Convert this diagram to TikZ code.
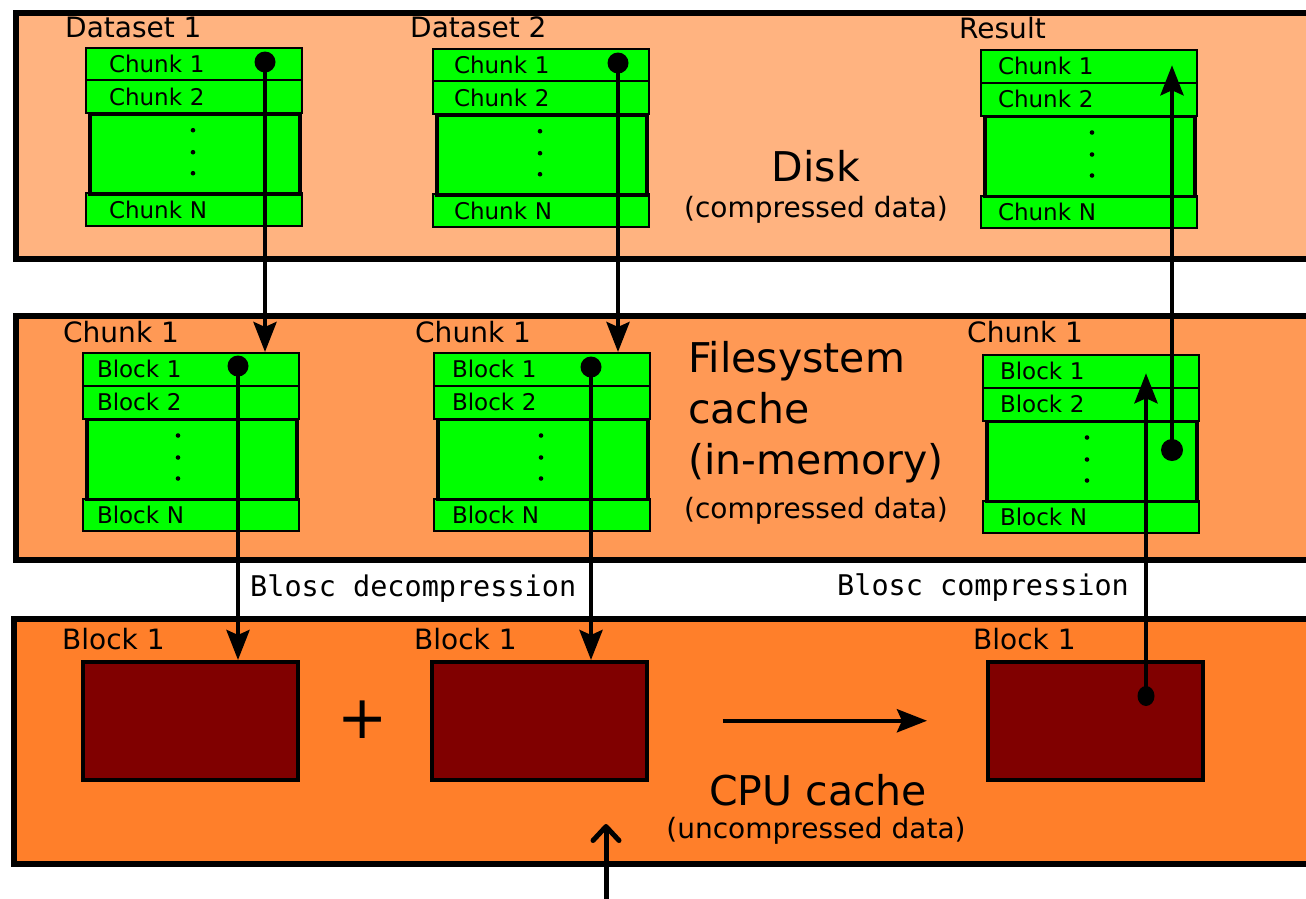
\documentclass[tikz,border=0pt]{standalone}
\usepackage{fontspec}
\setmainfont{DejaVu Sans}
\setmonofont{DejaVu Sans Mono}
\usetikzlibrary{arrows.meta}
\definecolor{diskc}{HTML}{FFB380}
\definecolor{fsc}{HTML}{FF9955}
\definecolor{cpuc}{HTML}{FF7F2A}
\definecolor{chunkg}{HTML}{00FF00}
\definecolor{blockr}{HTML}{800000}
\tikzset{
  row/.style={draw, fill=chunkg, line width=2pt, anchor=north west, align=left,
    font=\fontsize{23}{26}\selectfont, inner ysep=0pt},
  midbox/.style={draw, fill=chunkg, line width=3.5pt, anchor=north west,
    minimum width=210pt, minimum height=80pt, inner sep=0pt},
  band/.style={draw, line width=6pt, anchor=north west, minimum width=1340pt, inner sep=0pt},
  blk/.style={draw, fill=blockr, line width=3.5pt, anchor=north west,
    minimum width=215pt, minimum height=118pt, inner sep=0pt},
  conn/.style={line width=4.5pt, -{Stealth[length=30pt, width=23pt, inset=5pt]}},
  lbl/.style={font=\fontsize{28}{32}\selectfont, anchor=base west, inner sep=0pt},
  big/.style={font=\fontsize{41}{51}\selectfont, anchor=base west, inner sep=0pt},
  mono/.style={font=\ttfamily\fontsize{28.5}{32}\selectfont, anchor=base west, inner sep=0pt},
}
% #1 prefix, #2 x, #3 y, #4 word, #5 text offset, #6 dots offset
\newcommand{\mystack}[6]{%
  \pgfmathsetmacro{\tw}{216-2*#5}%
  \node[row, inner xsep=#5pt, text width=\tw pt, minimum height=32.5pt] (#1r1) at (#2,#3) {#4 1};
  \node[row, inner xsep=#5pt, text width=\tw pt, minimum height=33pt] (#1r2) at (#2,#3+32.5) {#4 2};
  \node[row, inner xsep=#5pt, text width=\tw pt, minimum height=32.5pt] (#1rn) at (#2,#3+145.5) {#4 N};
  \node[midbox] (#1m) at (#2+3,#3+65.5) {};
  \fill (#2+#6,#3+65.5+18) circle[radius=2.3pt];
  \fill (#2+#6,#3+65.5+40) circle[radius=2.3pt];
  \fill (#2+#6,#3+65.5+61) circle[radius=2.3pt];
}
\begin{document}
\begin{tikzpicture}[x=1pt, y=-1pt]
\useasboundingbox (0,0) rectangle (1306,898);
\fill[white] (0,0) rectangle (1306,898);
\clip (0,0) rectangle (1306,898);

% bands
\node[band, fill=diskc, minimum height=245.5pt] (disk) at (13,10) {};
\node[band, fill=fsc, minimum height=244pt] (fs) at (13,313) {};
\node[band, fill=cpuc, minimum height=245pt] (cpu) at (10.5,615.5) {};

% stacks
\mystack{dA}{85}{46.7}{Chunk}{23}{108}
\mystack{dB}{432}{47.7}{Chunk}{21}{108}
\mystack{rR}{980}{49}{Chunk}{17}{112}
\mystack{fA}{82}{352}{Block}{14}{96}
\mystack{fB}{433}{352}{Block}{18}{108}
\mystack{fC}{982}{354}{Block}{17}{105}

% CPU blocks
\node[blk] (cb1) at (81,660) {};
\node[blk] (cb2) at (430,660) {};
\node[blk] (cb3) at (986,660) {};
\node[font=\fontsize{60}{60}\selectfont, inner sep=0pt] (plus) at (363,720) {+};

% labels
\node[lbl] (dsa) at (65,37.3) {Dataset 1};
\node[lbl] (dsb) at (410,37.3) {Dataset 2};
\node[lbl] (res) at (959,38.3) {Result};
\node[big, anchor=base] (disktitle) at (816,181) {Disk};
\node[lbl, anchor=base] (disksub) at (816,217) {(compressed data)};

\node[lbl] (fha) at (63,342.5) {Chunk 1};
\node[lbl] (fhb) at (415,342.5) {Chunk 1};
\node[lbl] (fhc) at (967,342.5) {Chunk 1};
\node[big] (fst1) at (688,372) {Filesystem};
\node[big] (fst2) at (688,423) {cache};
\node[big] (fst3) at (688,474) {(in-memory)};
\node[lbl, anchor=base] (fssub) at (816,518) {(compressed data)};

\node[mono] (dec) at (250,596) {Blosc decompression};
\node[mono] (com) at (837,595) {Blosc compression};

\node[lbl] (cla) at (62,649) {Block 1};
\node[lbl] (clb) at (414,649) {Block 1};
\node[lbl] (clc) at (973,649) {Block 1};
\node[big, anchor=base] (cputitle) at (818,805) {CPU cache};
\node[lbl, anchor=base] (cpusub) at (816,838) {(uncompressed data)};

% connectors
\coordinate (pA) at (265,62);
\coordinate (pB) at (618,63);
\coordinate (pC) at (238,366);
\coordinate (pD) at (591,367);
\coordinate (pE) at (1146,696);
\coordinate (pF) at (1172,450);
\fill (pA) circle[radius=10.5pt];
\fill (pB) circle[radius=10.5pt];
\fill (pC) circle[radius=10.5pt];
\fill (pD) circle[radius=10.5pt];
\fill (pE) ellipse[x radius=8.5pt, y radius=10pt];
\fill (pF) circle[radius=11pt];
\draw[conn] (pA) -- (pA |- fAr1.north);
\draw[conn] (pB) -- (pB |- fBr1.north);
\draw[conn] (pC) -- (pC |- cb1.north);
\draw[conn] (pD) -- (pD |- cb2.north);
\draw[conn] (pE) -- ([yshift=-2pt]pE |- fCr1.center);
\draw[conn] (pF) -- ([yshift=1pt]pF |- rRr1.center);
\draw[conn] ([xshift=74pt]cb2.east) -- ([xshift=-59pt]cb3.west);

\coordinate (bA) at (606,905);
\coordinate (bB) at (606,824);
\draw[line width=5pt, -{Straight Barb[length=14pt, width=26pt, line cap=round, line join=round]}] (bA) -- (bB);
\end{tikzpicture}
\end{document}
